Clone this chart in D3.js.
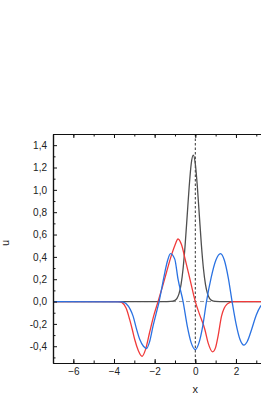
<!DOCTYPE html>
<html>
<head>
<meta charset="utf-8">
<script src="https://cdn.jsdelivr.net/npm/d3@7"></script>
<style>
  body { margin: 0; background: #fff; }
  text { font-family: "Liberation Sans", Arial, sans-serif; }
</style>
</head>
<body>
<script>
(function(){

  //chart data
  var xTicks = [-6, -4, -2, 0, 2]; //labelled x ticks (4 and 6 fall off the page)
  var yTicks = [-0.4, -0.2, 0, 0.2, 0.4, 0.6, 0.8, 1.0, 1.2, 1.4]; //major y ticks

  var blackX = [-7, -1.4, -1.2, -1.0, -0.9, -0.8, -0.7, -0.6, -0.5, -0.4, -0.3, -0.2, -0.1, 0, 0.1, 0.2, 0.3, 0.4, 0.5, 0.6, 0.7, 0.8, 1.0, 1.2, 7];
  var blackY = [0, 0, 0.001, 0.011, 0.029, 0.071, 0.154, 0.296, 0.506, 0.767, 1.03, 1.234, 1.31, 1.234, 1.03, 0.767, 0.506, 0.296, 0.154, 0.071, 0.029, 0.011, 0.001, 0, 0];

  var redX = [-7, -3.8, -3.6, -3.4, -3.23, -3.1, -2.98, -2.8, -2.62, -2.45, -2.24, -2.05, -1.83, -1.62, -1.42, -1.2, -1.01, -0.85, -0.68, -0.5, -0.25, 0, 0.2, 0.47, 0.63, 0.85, 1.0, 1.12, 1.29, 1.42, 1.55, 1.7, 1.9, 7];
  var redY = [0, 0, -0.01, -0.06, -0.16, -0.25, -0.34, -0.44, -0.49, -0.43, -0.27, -0.13, 0, 0.13, 0.26, 0.40, 0.50, 0.56, 0.51, 0.38, 0.19, 0, -0.11, -0.25, -0.37, -0.45, -0.41, -0.31, -0.13, -0.06, -0.025, -0.008, 0, 0];

  var blueX = [-7, -3.6, -3.4, -3.2, -3.06, -2.9, -2.73, -2.55, -2.4, -2.25, -2.08, -1.93, -1.78, -1.64, -1.5, -1.36, -1.22, -1.01, -0.85, -0.6, -0.4, -0.2, 0, 0.18, 0.37, 0.55, 0.78, 1.01, 1.24, 1.43, 1.62, 1.81, 2.0, 2.2, 2.39, 2.55, 2.77, 3.0, 3.2, 3.4, 3.6, 3.8, 7];
  var blueY = [0, -0.003, -0.02, -0.07, -0.13, -0.24, -0.34, -0.40, -0.42, -0.36, -0.22, -0.11, 0, 0.13, 0.26, 0.37, 0.43, 0.38, 0.20, 0, -0.215, -0.37, -0.43, -0.37, -0.215, 0, 0.215, 0.37, 0.43, 0.37, 0.215, 0, -0.195, -0.34, -0.39, -0.36, -0.25, -0.12, -0.045, -0.012, -0.002, 0, 0];

  window.onload = drawChart(); //draw when page loads

  function drawChart(){
    var width = 261, //svg frame dimensions
        height = 406;
    var left = 53, top = 134, bottom = 363, right = 337.6; //plot frame, right side runs off the page

    var svg = d3.select("body")
      .append("svg")
      .attr("width", width)
      .attr("height", height);

    var x = d3.scaleLinear().domain([-7, 7]).range([left, right]);
    var y = d3.scaleLinear().domain([-0.55, 1.5]).range([bottom, top]);

    var fmt = function(d){ //comma decimals and plain hyphen
      return d3.format(".1f")(d).replace(".", ",").replace("\u2212", "-");
    };

    svg.append("clipPath").attr("id", "plot")
      .append("rect")
      .attr("x", left).attr("y", top)
      .attr("width", right - left).attr("height", bottom - top);

    //reference lines
    svg.append("line")
      .attr("x1", left).attr("x2", right)
      .attr("y1", y(0)).attr("y2", y(0))
      .attr("stroke", "#8a8a8a")
      .attr("stroke-width", 0.9)
      .attr("stroke-dasharray", "4,3");

    svg.append("line")
      .attr("x1", x(0)).attr("x2", x(0))
      .attr("y1", top).attr("y2", bottom)
      .attr("stroke", "#333")
      .attr("stroke-width", 1)
      .attr("stroke-dasharray", "2.5,2");

    //curves
    var line = d3.line()
      .x(function(d){ return x(d[0]); })
      .y(function(d){ return y(d[1]); })
      .curve(d3.curveMonotoneX);

    var series = [
      {xs: blackX, ys: blackY, color: "#4f4f4f"},
      {xs: redX, ys: redY, color: "#f03a3a"},
      {xs: blueX, ys: blueY, color: "#2a72e2"}
    ];

    series.forEach(function(s){
      svg.append("path")
        .datum(d3.zip(s.xs, s.ys))
        .attr("clip-path", "url(#plot)")
        .attr("fill", "none")
        .attr("stroke", s.color)
        .attr("stroke-width", 1.3)
        .attr("d", line);
    });

    //axes
    svg.append("g")
      .attr("transform", "translate(0," + bottom + ")")
      .call(d3.axisBottom(x).tickValues(xTicks).tickSize(-4).tickSizeOuter(0).tickPadding(5).tickFormat(d3.format("d")));
    svg.append("g")
      .attr("transform", "translate(0," + bottom + ")")
      .call(d3.axisBottom(x).tickValues(d3.range(-7, 8, 1)).tickSize(-2.5).tickSizeOuter(0).tickFormat(""));

    svg.append("g")
      .attr("transform", "translate(0," + top + ")")
      .call(d3.axisTop(x).tickValues(xTicks).tickSize(-4).tickSizeOuter(0).tickFormat(""));
    svg.append("g")
      .attr("transform", "translate(0," + top + ")")
      .call(d3.axisTop(x).tickValues(d3.range(-7, 8, 1)).tickSize(-2.5).tickSizeOuter(0).tickFormat(""));

    svg.append("g")
      .attr("transform", "translate(" + left + ",0)")
      .call(d3.axisLeft(y).tickValues(yTicks).tickSize(-4).tickSizeOuter(0).tickPadding(6).tickFormat(fmt));
    svg.append("g")
      .attr("transform", "translate(" + left + ",0)")
      .call(d3.axisLeft(y).tickValues(d3.range(-5, 15, 2).map(function(v){ return v / 10; })).tickSize(-2.5).tickSizeOuter(0).tickFormat(""));

    svg.selectAll(".domain").attr("stroke", "#111").attr("stroke-width", 1.2);
    svg.selectAll(".tick line").attr("stroke", "#111").attr("stroke-width", 1);
    svg.selectAll(".tick text").attr("font-size", 10).attr("fill", "#222")
      .style("font-family", "'Liberation Sans', Arial, sans-serif");

    //axis titles
    svg.append("text")
      .attr("x", x(0)).attr("y", 393)
      .attr("text-anchor", "middle")
      .attr("font-size", 11)
      .attr("fill", "#222")
      .text("x");

    svg.append("text")
      .attr("transform", "translate(9,243) rotate(-90)")
      .attr("text-anchor", "middle")
      .attr("font-size", 11)
      .attr("fill", "#222")
      .text("u");
  };
})();
</script>
</body>
</html>
